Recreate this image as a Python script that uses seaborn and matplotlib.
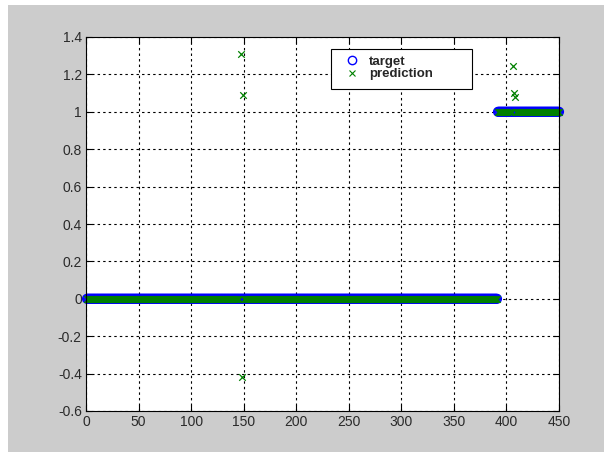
import numpy as np
import pandas as pd
import matplotlib
matplotlib.use("Agg")
import matplotlib.pyplot as plt
from matplotlib.lines import Line2D
from matplotlib.patches import Rectangle
import seaborn as sns

# ---- data ----
target_values = [0, 1]
target_lengths = [391, 59]          # samples 1..391 -> 0, 392..450 -> 1
outlier_index = [147, 148, 149, 406, 407, 408]
outlier_value = [1.31, -0.42, 1.09, 1.245, 1.10, 1.078]
x_ticks = [0, 50, 100, 150, 200, 250, 300, 350, 400, 450]
y_ticks = [-0.6, -0.4, -0.2, 0, 0.2, 0.4, 0.6, 0.8, 1, 1.2, 1.4]
y_tick_labels = ["-0.6", "-0.4", "-0.2", "0", "0.2", "0.4", "0.6", "0.8", "1", "1.2", "1.4"]
series_names = ["target", "prediction"]

target = np.repeat(target_values, target_lengths).astype(float)
sample = np.arange(1, len(target) + 1)
prediction = target.copy()
for i, v in zip(outlier_index, outlier_value):
    prediction[i - 1] = v

df = pd.DataFrame({"sample": sample, "target": target, "prediction": prediction})

sns.set_style("white")
plt.rcParams["font.family"] = ["Liberation Sans", "DejaVu Sans"]

fig = plt.figure(figsize=(6.12, 4.57), dpi=100)
fig.patch.set_facecolor("white")
fig.patches.append(Rectangle((8 / 612, 5 / 457), 596 / 612, 447 / 457,
                             transform=fig.transFigure, facecolor="#cccccc",
                             edgecolor="none", zorder=-10))

ax = fig.add_axes([86 / 612, 1 - 411 / 457, 473 / 612, 374 / 457])
ax.set_facecolor("white")

blue = (0, 0, 1)
green = (0, 0.5, 0)

sns.scatterplot(data=df, x="sample", y="target", ax=ax, marker="o", s=40,
                facecolors="none", edgecolor=blue, linewidth=1.0, zorder=3,
                legend=False, clip_on=False)
sns.scatterplot(data=df, x="sample", y="prediction", ax=ax, marker="x", s=22,
                color=green, linewidth=0.9, zorder=4, legend=False,
                clip_on=False)

ax.set_xlim(0, 450)
ax.set_ylim(-0.6, 1.4)
ax.set_xticks(x_ticks)
ax.set_xticklabels([str(t) for t in x_ticks])
ax.set_yticks(y_ticks)
ax.set_yticklabels(y_tick_labels)
ax.set_xlabel("")
ax.set_ylabel("")

ax.grid(True, color="black", linestyle=(0, (2.2, 2.8)), linewidth=0.8)
ax.set_axisbelow(True)
for s in ax.spines.values():
    s.set_visible(True)
    s.set_color("black")
    s.set_linewidth(0.8)
    s.set_zorder(5)
ax.tick_params(direction="in", length=4, width=0.8, colors="black",
               labelsize=10, labelcolor="#2a2a2a", pad=3,
               top=True, right=True, bottom=True, left=True)

# legend box (MATLAB style, wider than its content)
ax.add_patch(Rectangle((0.518, 0.861), 0.298, 0.107, transform=ax.transAxes,
                       facecolor="white", edgecolor="black", linewidth=0.8,
                       zorder=6))
handles = [
    Line2D([], [], marker="o", linestyle="", markerfacecolor="none",
           markeredgecolor=blue, markersize=6, markeredgewidth=1.0),
    Line2D([], [], marker="x", linestyle="", color=green, markersize=4.5,
           markeredgewidth=0.8),
]
leg = ax.legend(handles, series_names, loc="upper left",
                bbox_to_anchor=(0.5486, 0.950), frameon=False,
                handlelength=1.0, handletextpad=0.8, borderpad=0.0,
                borderaxespad=0.0, labelspacing=0.0,
                prop={"weight": "bold", "size": 9.5})
leg.set_zorder(7)

fig.savefig("out.png", dpi=100, facecolor=fig.get_facecolor())
